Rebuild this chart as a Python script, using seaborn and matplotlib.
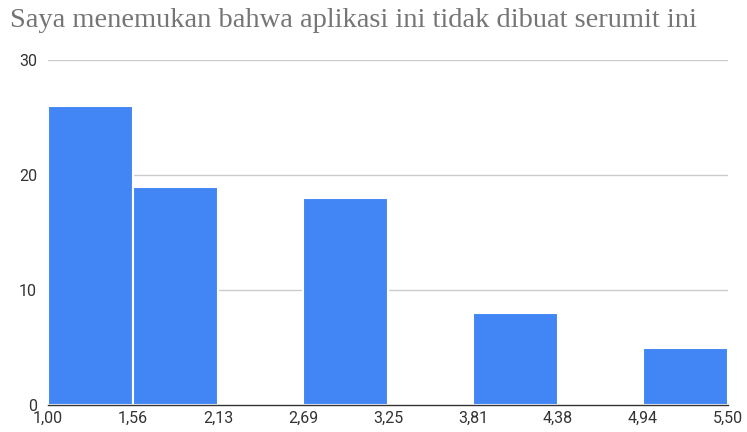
import numpy as np
import pandas as pd
import matplotlib.pyplot as plt
import seaborn as sns

# histogram bins (edges) and counts
bin_edges = [1.0, 1.5625, 2.125, 2.6875, 3.25, 3.8125, 4.375, 4.9375, 5.5]
counts = [26, 19, 0, 18, 0, 8, 0, 5]
x_ticklabels = ['1,00', '1,56', '2,13', '2,69', '3,25', '3,81', '4,38', '4,94', '5,50']
y_ticks = [0, 10, 20, 30]
title = 'Saya menemukan bahwa aplikasi ini tidak dibuat serumit ini'

centers = [(a + b) / 2 for a, b in zip(bin_edges[:-1], bin_edges[1:])]
df = pd.DataFrame({'nilai': centers, 'jumlah': counts})

sns.set_style('white')
plt.rcParams['font.family'] = ['Roboto', 'DejaVu Sans']

fig = plt.figure(figsize=(7.47, 4.32), dpi=100)
ax = fig.add_axes([0.0643, 0.0625, 0.9103, 0.7985])

sns.histplot(data=df, x='nilai', weights='jumlah', bins=bin_edges,
             color='#4285f4', alpha=1, edgecolor='white', linewidth=1.5, ax=ax)

ax.set_xlim(bin_edges[0], bin_edges[-1])
ax.set_ylim(0, 30)
ax.set_xticks(bin_edges)
ax.set_xticklabels(x_ticklabels)
ax.set_yticks(y_ticks)
ax.set_xlabel('')
ax.set_ylabel('')
ax.yaxis.grid(True, color='#cccccc', linewidth=1)
ax.set_axisbelow(True)
for s in ['top', 'right', 'left']:
    ax.spines[s].set_visible(False)
ax.spines['bottom'].set_color('#333333')
ax.spines['bottom'].set_linewidth(1)
ax.tick_params(axis='both', length=0, labelsize=11.5, colors='#333333')
ax.tick_params(axis='x', pad=4)
ax.tick_params(axis='y', pad=8)

fig.text(0.013, 0.937, title, fontsize=20.5, color='#757575',
         family=['Liberation Serif', 'DejaVu Serif'], va='baseline')

fig.savefig('out.png', dpi=100)
